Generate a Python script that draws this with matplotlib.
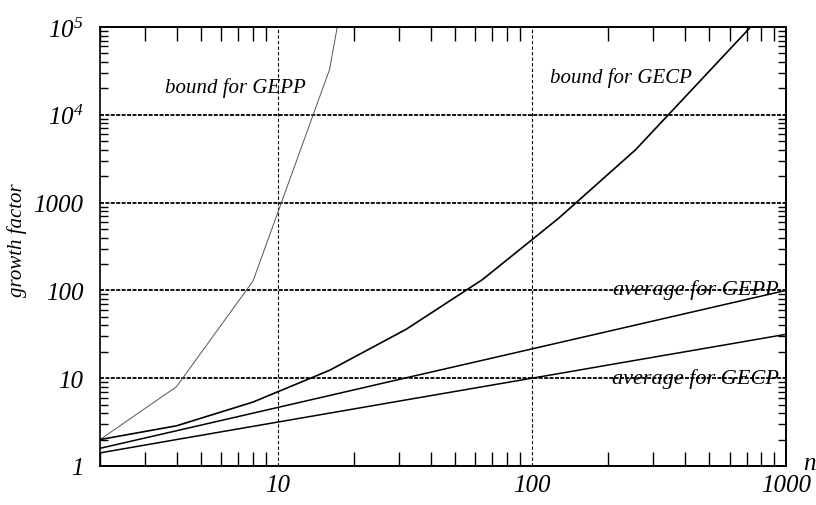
import matplotlib
matplotlib.use("Agg")
import matplotlib.pyplot as plt
from matplotlib.ticker import FixedLocator, NullFormatter, LogLocator

# data
n = [2, 4, 8, 16, 32, 64, 128, 256, 512, 1024]
bound_gepp = [2, 8, 128, 32768, 2.1e9, 9.2e18, 1.7e38, 5.8e76, 6.7e153, 1e300]
bound_gecp = [2, 2.87, 5.35, 12.3, 36, 133, 670, 4000, 34000, 290000]
avg_gepp = [1.59, 2.52, 4.0, 6.35, 10.1, 16.0, 25.4, 40.3, 64.0, 101.6]
avg_gecp = [1.41, 2.0, 2.83, 4.0, 5.66, 8.0, 11.3, 16.0, 22.6, 32.0]

xticks = [10, 100, 1000]
xticklabels = ["10", "100", "1000"]
yticks = [1, 10, 100, 1000, 1e4, 1e5]
yticklabels = ["1", "10", "100", "1000", r"$\mathdefault{10^{4}}$", r"$\mathdefault{10^{5}}$"]

plt.rcParams['font.family'] = ['Liberation Serif', 'DejaVu Serif']
plt.rcParams['font.style'] = 'italic'
plt.rcParams['mathtext.fontset'] = 'custom'
plt.rcParams['mathtext.rm'] = 'Liberation Serif:italic'
plt.rcParams['mathtext.it'] = 'Liberation Serif:italic'

fig = plt.figure(figsize=(8.16, 5.06), dpi=100)
ax = fig.add_axes([100/816, 1-467/506, 686/816, 439/506])
ax.set_xscale('log')
ax.set_yscale('log')

ax.plot(n, bound_gepp, color='#555555', lw=0.7)
ax.plot(n, bound_gecp, color='black', lw=1.2)
ax.plot(n, avg_gepp, color='black', lw=1.1)
ax.plot(n, avg_gecp, color='black', lw=1.1)

ax.set_xlim(2, 1000)
ax.set_ylim(1, 1e5)

# grids
for yv in [10, 100, 1000, 1e4]:
    ax.axhline(yv, color='black', lw=1.3, ls=(0, (2.2, 0.8)), zorder=0.5)
for xv in [10, 100]:
    ax.axvline(xv, color='black', lw=0.8, ls=(0, (3, 2)), zorder=0.5)

ax.xaxis.set_major_locator(FixedLocator(xticks))
ax.set_xticklabels(xticklabels)
ax.xaxis.set_minor_locator(LogLocator(base=10, subs=range(2, 10)))
ax.xaxis.set_minor_formatter(NullFormatter())
ax.yaxis.set_major_locator(FixedLocator(yticks))
ax.set_yticklabels(yticklabels)
ax.yaxis.set_minor_locator(LogLocator(base=10, subs=range(2, 10)))
ax.yaxis.set_minor_formatter(NullFormatter())

ax.tick_params(which='both', direction='in', top=True, right=True)
ax.tick_params(which='major', length=0, width=1, labelsize=18)
ax.tick_params(which='minor', length=6, width=1)
ax.tick_params(axis='x', which='major', pad=6)
ax.tick_params(axis='x', which='minor', length=10)
ax.tick_params(axis='y', which='major', pad=12)

ax.spines['left'].set_linewidth(1.2)
for s in ['top', 'right', 'bottom']:
    ax.spines[s].set_linewidth(1.4)
    ax.spines[s].set_linestyle((0, (1.2, 1.0)))

tr = ax.transAxes
def px(x, y):
    return ((x - 100) / 686, (467 - y) / 439)

ax.text(*px(17, 240), "growth factor", transform=tr, rotation=90,
        ha='center', va='center', fontsize=15)
ax.text(*px(803, 464), "n", transform=tr, ha='left', va='center', fontsize=18)

ax.text(*px(235, 88), "bound for GEPP", transform=tr, ha='center', va='center', fontsize=15)
ax.text(*px(621, 78), "bound for GECP", transform=tr, ha='center', va='center', fontsize=15)
ax.text(*px(779, 290), "average for GEPP", transform=tr, ha='right', va='center', fontsize=16)
ax.text(*px(779, 379), "average for GECP", transform=tr, ha='right', va='center', fontsize=16)

fig.savefig("out.png", dpi=100)
